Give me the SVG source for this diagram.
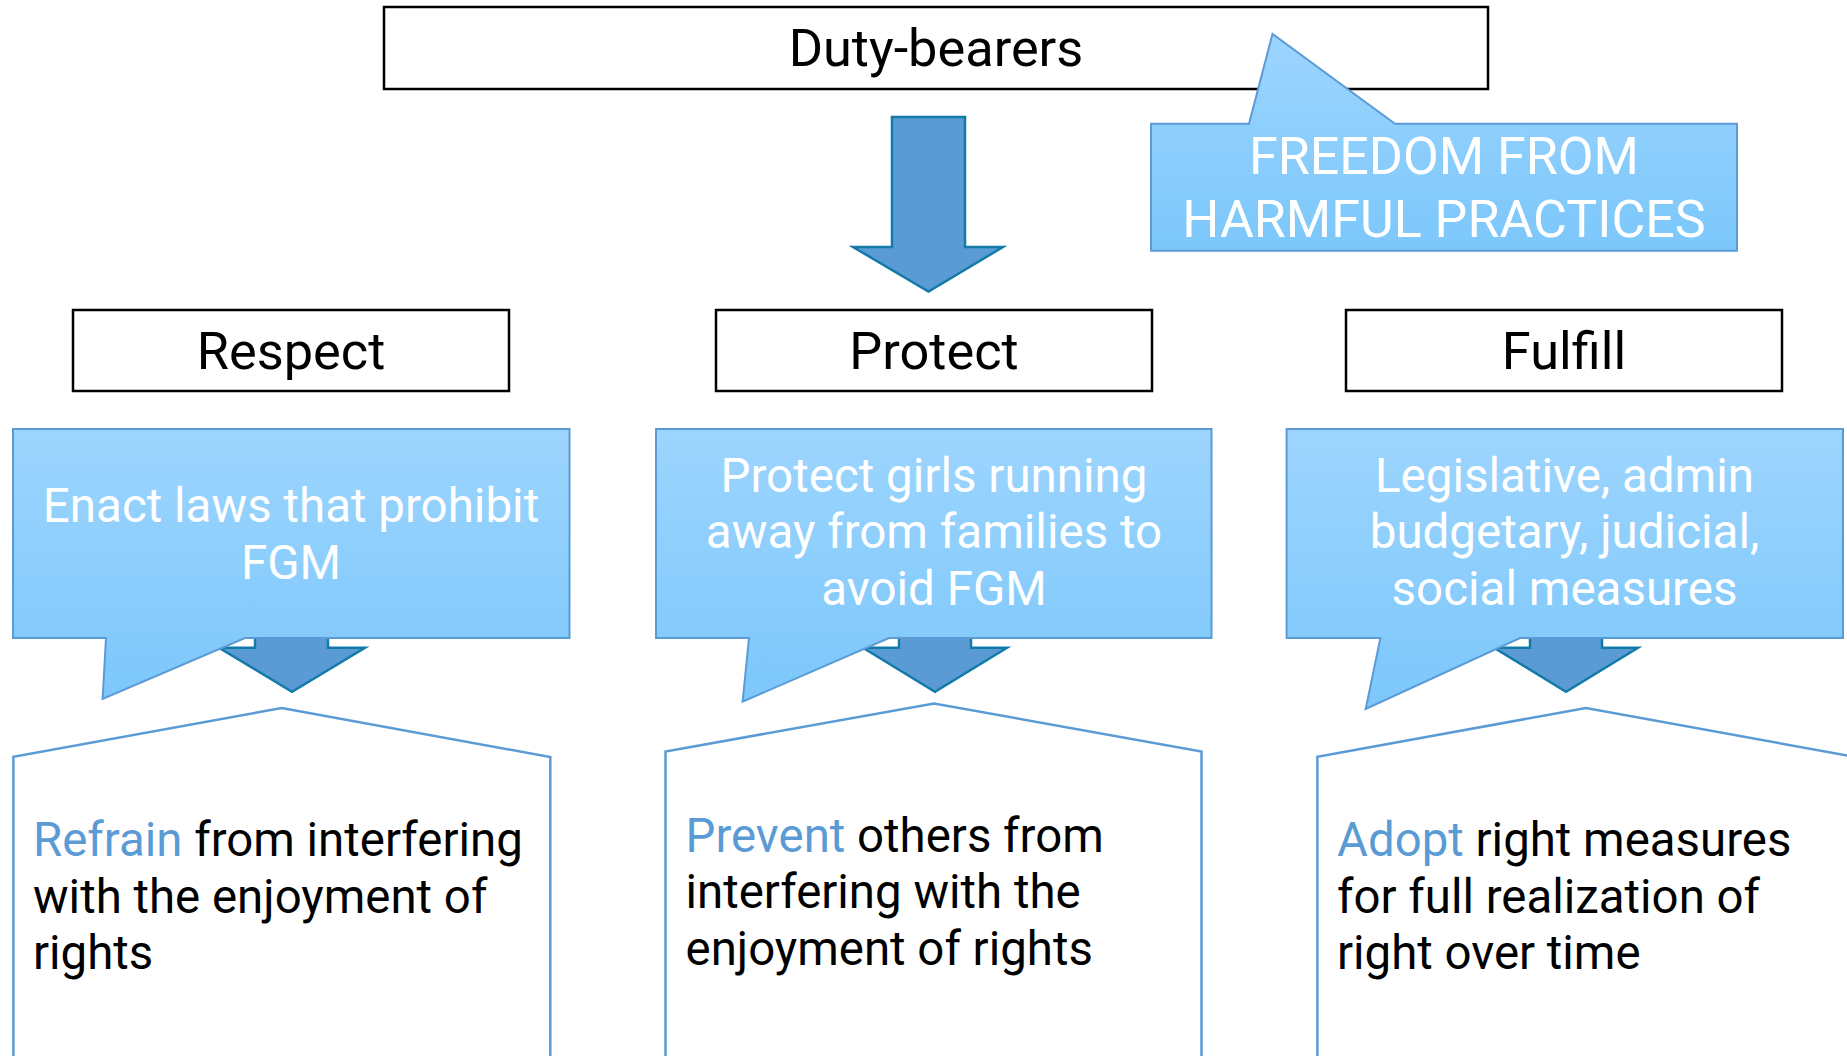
<svg xmlns="http://www.w3.org/2000/svg" width="1847" height="1056" viewBox="0 0 1847 1056">
  <defs>
    <linearGradient id="calloutFill" x1="0" y1="0" x2="0" y2="1">
      <stop offset="0" stop-color="#9DD5FE"/>
      <stop offset="1" stop-color="#7CC7FB"/>
    </linearGradient>
    <style>
      .label-box { fill: #FFFFFF; stroke: #000000; stroke-width: 2.5; }
      .heading { font-family: Roboto, "Liberation Sans", sans-serif; font-size: 52.3px; fill: #000000; text-anchor: middle; }
      .callout { fill: url(#calloutFill); stroke: #5B9BD5; stroke-width: 2; stroke-linejoin: miter; }
      .callout-text { font-family: Roboto, "Liberation Sans", sans-serif; font-size: 47.5px; fill: #FFFFFF; text-anchor: middle; }
      .big-callout-text { font-family: Roboto, "Liberation Sans", sans-serif; font-size: 52px; fill: #FFFFFF; text-anchor: middle; }
      .block-arrow { fill: #5B9BD5; stroke: #137BA8; stroke-width: 2.5; stroke-linejoin: miter; }
      .panel { fill: #FFFFFF; stroke: #5B9BD5; stroke-width: 2.5; }
      .panel-text { font-family: Roboto, "Liberation Sans", sans-serif; font-size: 47.4px; fill: #000000; }
      .accent { fill: #5B9BD5; }
    </style>
  </defs>

  <rect width="1847" height="1056" fill="#FFFFFF"/>

  <!-- block arrows -->
  <g id="connectors">
    <path class="block-arrow" d="M892,117 H965 V247 H1003 L928.5,291.5 L853,247 H892 Z"/>
    <path class="block-arrow" d="M255,560 H328 V647.7 H365 L292,691.7 L219,647.7 H255 Z"/>
    <path class="block-arrow" d="M899,560 H971 V647.7 H1007 L935,691.7 L863,647.7 H899 Z"/>
    <path class="block-arrow" d="M1530,560 H1602 V647.7 H1638 L1566,691.7 L1494,647.7 H1530 Z"/>
  </g>

  <!-- top heading -->
  <g id="duty-bearers">
    <rect class="label-box" x="384" y="7" width="1104" height="82"/>
    <text class="heading" x="936" y="66">Duty-bearers</text>
  </g>

  <g id="freedom-callout">
    <path class="callout" d="M1151,123.7 H1249 L1272.5,34 L1395,123.7 H1737 V250.7 H1151 Z"/>
    <text class="big-callout-text" x="1444" y="174">FREEDOM FROM</text>
    <text class="big-callout-text" x="1444" y="236.5">HARMFUL PRACTICES</text>
  </g>

  <!-- obligation headings -->
  <g id="respect">
    <rect class="label-box" x="73" y="310" width="436" height="81"/>
    <text class="heading" x="291" y="369">Respect</text>
  </g>
  <g id="protect">
    <rect class="label-box" x="716" y="310" width="436" height="81"/>
    <text class="heading" x="934" y="369">Protect</text>
  </g>
  <g id="fulfill">
    <rect class="label-box" x="1346" y="310" width="436" height="81"/>
    <text class="heading" x="1564" y="369">Fulfill</text>
  </g>

  <!-- example callouts -->
  <g id="respect-example">
    <path class="callout" d="M13,429 H569.5 V638 H245 L102.6,699 L106,638 H13 Z"/>
    <text class="callout-text" x="291" y="521.5">Enact laws that prohibit</text>
    <text class="callout-text" x="291" y="579">FGM</text>
  </g>
  <g id="protect-example">
    <path class="callout" d="M656,429 H1211.5 V638 H889 L742.6,701.7 L749,638 H656 Z"/>
    <text class="callout-text" x="934" y="491.5">Protect girls running</text>
    <text class="callout-text" x="934" y="548.3">away from families to</text>
    <text class="callout-text" x="934" y="605">avoid FGM</text>
  </g>
  <g id="fulfill-example">
    <path class="callout" d="M1286.6,429 H1843 V638 H1520 L1365.7,709 L1380.4,638 H1286.6 Z"/>
    <text class="callout-text" x="1564.5" y="491.5">Legislative, admin</text>
    <text class="callout-text" x="1564.5" y="548.3">budgetary, judicial,</text>
    <text class="callout-text" x="1564.5" y="605">social measures</text>
  </g>

  <!-- definition panels -->
  <g id="respect-definition">
    <path class="panel" d="M13.4,1062 V756.7 L281.7,708 L550.3,757 V1062"/>
    <text class="panel-text" x="33" y="856"><tspan class="accent">Refrain</tspan> from interfering</text>
    <text class="panel-text" x="33" y="912.5">with the enjoyment of</text>
    <text class="panel-text" x="33" y="968.5">rights</text>
  </g>
  <g id="protect-definition">
    <path class="panel" d="M665.5,1062 V751.5 L934,703.5 L1201.5,751.5 V1062"/>
    <text class="panel-text" x="685.5" y="851.5"><tspan class="accent">Prevent</tspan> others from</text>
    <text class="panel-text" x="685.5" y="908">interfering with the</text>
    <text class="panel-text" x="685.5" y="964.5">enjoyment of rights</text>
  </g>
  <g id="fulfill-definition">
    <path class="panel" d="M1317.4,1062 V756.7 L1586,708 L1855,757 V1062"/>
    <text class="panel-text" x="1337" y="856"><tspan class="accent">Adopt</tspan> right measures</text>
    <text class="panel-text" x="1337" y="912.5">for full realization of</text>
    <text class="panel-text" x="1337" y="968.5">right over time</text>
  </g>
</svg>
